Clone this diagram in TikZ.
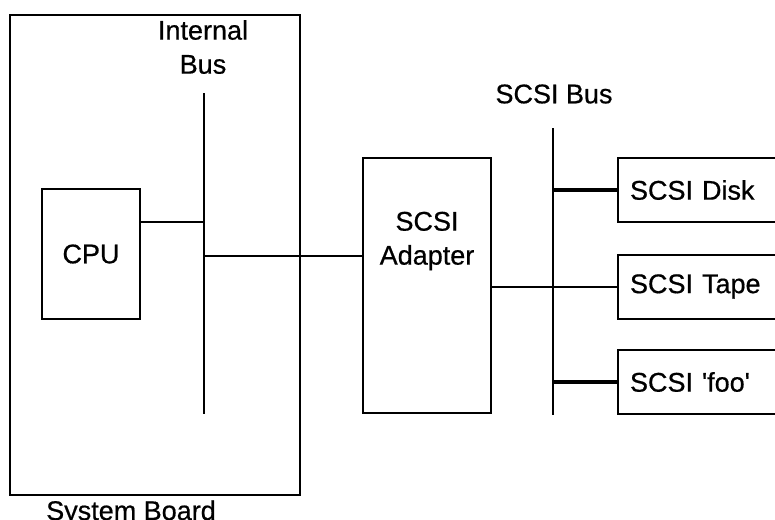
\documentclass[tikz,border=0pt]{standalone}
\usepackage{fontspec}
\setmainfont{Liberation Sans}
\newfontfamily\scanfont{Liberation Sans}[FakeBold=0.6]
\usetikzlibrary{positioning,calc}

\begin{document}
\begin{tikzpicture}[x=1pt,y=-1pt,
    box/.style={draw, line width=2pt, inner sep=0pt, minimum width=#1},
    lbl/.style={font=\scanfont\fontsize{27}{34}\selectfont, align=center, inner sep=0pt},
    devbox/.style={lbl, draw, line width=2pt, anchor=west, align=left, text width=170pt, inner xsep=12pt, minimum height=64pt},
    wire/.style={line width=2pt},
    tap/.style={line width=4pt},
]
\path[use as bounding box, clip] (0,0) rectangle (775,519);

% system board side
\node[box=290pt, minimum height=480pt] (board) at (155,255) {};
\node[box=98pt, minimum height=130pt, lbl] (cpu) at (91,254) {CPU};
\node[lbl] (intlabel) at (203,47) {Internal\\Bus};
\node[lbl, anchor=base] (boardlabel) at (131,520) {System Board};
\coordinate (ibtop) at (204,93);
\coordinate (ibbot) at (204,414);

% adapter and scsi bus
\node[box=128pt, minimum height=255pt] (adapter) at (427,285.5) {};
\node[lbl] (adaptertext) at (427,241) {SCSI\\Adapter};
\node[lbl] (scsilabel) at (554,94) {SCSI Bus};
\coordinate (sbtop) at (553,128);
\coordinate (sbbot) at (553,415);

% devices (cut off at the right edge)
\node[devbox] (disk) at (617,190) {SCSI Disk};
\node[devbox] (tape) at (617,286.5) {SCSI Tape};
\node[devbox] (foo) at (617,382) {SCSI 'foo'};

\draw[wire] (ibtop) -- (ibbot);
\draw[wire] (sbtop) -- (sbbot);

\coordinate (cpuout) at ([yshift=32pt]cpu.east);
\draw[wire] (cpuout) -- (cpuout -| ibtop);
\coordinate (adin) at ([yshift=30pt]adapter.west);
\draw[wire] (adin -| ibtop) -- (adin);
\draw[wire] (adapter.east |- tape.west) -- (tape.west);
\draw[tap] (disk.west -| sbtop) -- (disk.west);
\draw[tap] (foo.west -| sbtop) -- (foo.west);
\end{tikzpicture}
\end{document}
